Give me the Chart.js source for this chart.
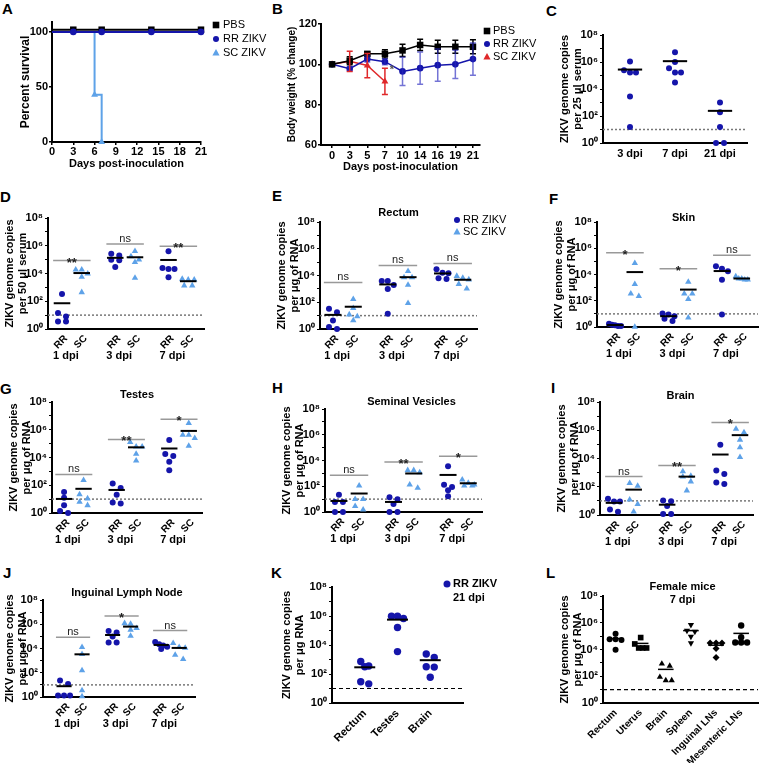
<!DOCTYPE html>
<html>
<head>
<meta charset="utf-8">
<script src="https://cdn.jsdelivr.net/npm/chart.js@4.4.1/dist/chart.umd.min.js"></script>
<style>
  html, body { margin: 0; padding: 0; background: #fff; }
  body { width: 760px; height: 763px; position: relative; overflow: hidden; }
  canvas { position: absolute; }
  .tag { position: absolute; font: bold 15px/15px "Liberation Sans", Arial, sans-serif; color: #000; }
</style>
</head>
<body>
<div class="tag" style="left:2px;top:1px">A</div>
<div class="tag" style="left:272px;top:1px">B</div>
<div class="tag" style="left:546px;top:3px">C</div>
<div class="tag" style="left:0px;top:189px">D</div>
<div class="tag" style="left:272px;top:188px">E</div>
<div class="tag" style="left:549px;top:191px">F</div>
<div class="tag" style="left:0px;top:381px">G</div>
<div class="tag" style="left:272px;top:380px">H</div>
<div class="tag" style="left:551px;top:380px">I</div>
<div class="tag" style="left:3px;top:565px">J</div>
<div class="tag" style="left:271px;top:565px">K</div>
<div class="tag" style="left:546px;top:565px">L</div>
<script>
// ---------- data ----------
// A: survival (%)
const survDays = [0, 3, 7, 14, 21];
const survPBS = [102, 102, 102, 102, 102];
const survRR = [100, 100, 100, 100, 100];
const survSCDays = [0, 6, 7];
const survSC = [100, 43, 0];
const survTicksX = [0, 3, 6, 9, 12, 15, 18, 21];
const survTicksY = [0, 50, 100];

// B: body weight (% change), mean and SD
const bwDays = ['0', '3', '5', '7', '10', '14', '16', '19', '21'];
const bwPBS = [100, 101.8, 105.2, 105.2, 106.9, 109.6, 108.7, 108.7, 108.7];
const bwPBSsd = [0, 2, 1, 2, 3, 2.8, 3.2, 3.2, 3.5];
const bwRR = [100, 97.8, 102.6, 101.3, 96.5, 98.1, 99.6, 100, 102.6];
const bwRRsd = [0, 1, 1.5, 1.5, 7, 8, 8, 7, 8];
const bwSC = [100, 101.5, 99.4, 91.5];
const bwSCsd = [0, 5, 6, 6.5];
const bwTicksY = [60, 80, 100, 120];

// log axis shared by C-L
const logTicks = [1, 1e1, 1e2, 1e3, 1e4, 1e5, 1e6, 1e7, 1e8];
const logLabels = ['10⁰', '', '10²', '', '10⁴', '', '10⁶', '', '10⁸'];
const limitOfDetection = 10;

// C: serum, RR ZIKV
const cDays = ['3 dpi', '7 dpi', '21 dpi'];
const cSerum = [
  [1.07e6, 2.5e5, 1.66e5, 1.66e5, 2.8e3, 15],
  [5.2e6, 1e6, 3.5e5, 1.66e5, 1.66e5, 3e4],
  [1e3, 186, 15, 1, 1]
];

// D-J: groups RR 1dpi, SC 1dpi, RR 3dpi, SC 3dpi, RR 7dpi, SC 7dpi
const pairTicks = ['RR', 'SC', 'RR', 'SC', 'RR', 'SC'];
const dpiLabels = ['1 dpi', '3 dpi', '7 dpi'];

const dSerum = [
  [330, 14, 8.1, 3.5, 3.5],
  [1.9e4, 1.9e4, 9.8e3, 5.6e3, 440],
  [2.6e5, 1.95e5, 1e5, 8.9e4, 2.95e4],
  [4e5, 1.7e5, 1e5, 6.5e4, 4.8e3],
  [4e5, 2.5e4, 2.1e4, 2.1e4, 5.4e3],
  [4e3, 3.6e3, 3.6e3, 1.35e3, 1.35e3]
];
const dSig = ['**', 'ns', '**'];
const dSigAt = [8.5e4, 1.35e6, 9.1e5];

const eRectum = [
  [32, 18, 4.4, 1.4, 1],
  [170, 36, 12, 8.7, 4.4],
  [3.9e3, 3.9e3, 1.95e3, 1e3, 14],
  [2.1e4, 7.2e3, 7.2e3, 1.95e3, 85],
  [2.9e4, 1.6e4, 1.45e4, 6.2e3, 5.5e3],
  [9.1e3, 6.5e3, 5e3, 2.3e3, 1.05e3]
];
const eSig = ['ns', 'ns', 'ns'];
const eSigAt = [3e3, 5.6e4, 8e4];

const fSkin = [
  [1.8, 1.5, 1.35, 1.2, 1.2],
  [7.4e4, 1.8e3, 350, 220, 1],
  [10.5, 9.1, 6.5, 4.3, 2.9],
  [2.7e3, 350, 350, 135, 5.1],
  [4.2e4, 2.75e4, 1.8e4, 4e3, 9.1],
  [7.2e3, 4.8e3, 4.8e3, 4e3, 4e3]
];
const fSig = ['*', '*', 'ns'];
const fSigAt = [4.6e5, 2.75e4, 2.9e5];

const gTestes = [
  [33, 12.6, 3.6, 1.4, 1],
  [234, 22, 11, 6.3, 3.6],
  [135, 63, 21, 5.6, 4.8],
  [1.26e5, 6e4, 6e4, 1.8e4, 5.9e3],
  [1.86e5, 1.8e4, 1.26e4, 5e3, 1.23e3],
  [2.95e6, 4.3e5, 4.3e5, 2.45e5, 6.8e4]
];
const gSig = ['ns', '**', '*'];
const gSigAt = [600, 2e5, 5.8e6];

const hSeminal = [
  [22, 6, 6, 1, 1],
  [112, 10, 10, 2.8, 1.5],
  [14, 10, 4.2, 1, 1],
  [1.74e3, 1.74e3, 1.2e3, 132, 74],
  [3.5e3, 132, 87, 48, 17],
  [320, 178, 132, 112, 112]
];
const hSig = ['ns', '**', '*'];
const hSigAt = [700, 7.8e3, 2.1e4];

const iBrain = [
  [14, 9, 9, 2.5, 1.7],
  [178, 115, 12, 5.8, 1.7],
  [10.5, 9.5, 4.4, 1.2, 1.2],
  [1.2e3, 590, 525, 234, 54],
  [9.3e4, 1.4e3, 810, 200, 158],
  [1.26e6, 7.1e5, 2.1e5, 6e4, 1.23e4]
];
const iSig = ['ns', '**', '*'];
const iSigAt = [525, 3.2e3, 3.6e6];

const jLymph = [
  [23, 12, 1.3, 1.3, 1.3],
  [1.3e4, 3.4e3, 155, 3.5, 1.1],
  [2.8e5, 2.1e5, 9.8e4, 3.1e4, 3.1e4],
  [1.2e6, 1.07e6, 4.7e5, 3.5e5, 1.1e5],
  [3.5e4, 2.2e4, 1.8e4, 1.4e4, 8.9e3],
  [2.75e4, 1.3e4, 1.1e4, 3e3, 1.3e3]
];
const jSig = ['ns', '*', 'ns'];
const jSigAt = [8.5e4, 4.8e6, 3e5];

// K: RR ZIKV 21 dpi
const kTissues = ['Rectum', 'Testes', 'Brain'];
const kRR21 = [
  [720, 360, 320, 29, 21],
  [9.8e5, 9.8e5, 6.8e5, 1.6e5, 3.5e3],
  [2.4e3, 1.4e3, 320, 300, 60]
];

// L: female mice 7 dpi
const lTissues = ['Rectum', 'Uterus', 'Brain', 'Spleen', 'Inguinal LNs', 'Mesenteric LNs'];
const lFemale = [
  [1.5e5, 5.9e4, 5.9e4, 5.2e4, 9.5e3],
  [7.8e4, 2.6e4, 1.3e4, 1.3e4, 1.3e4],
  [850, 600, 87, 49, 49],
  [6.9e5, 2.6e5, 2.2e5, 9.3e4, 3e4],
  [3e4, 3e4, 3e4, 1.2e4, 2.5e3],
  [6.2e5, 8.3e4, 3.3e4, 3.3e4, 3.3e4]
];

// ---------- drawing ----------
const FONT = '"Liberation Sans", Arial, Helvetica, sans-serif';
Chart.defaults.font.family = FONT;
Chart.defaults.color = '#000';

const RR_COL = '#1515aa';
const SC_COL = '#5ea2e8';
const RED = '#e0282a';

const RRs = { shape: 'circle', r: 3, color: RR_COL };
const SCs = { shape: 'triangle', r: 3.7, color: SC_COL };

function mount(area, yW, padTop, padRight, xH) {
  const cv = document.createElement('canvas');
  const left = area[0] - yW, top = area[1] - padTop;
  cv.width = area[2] - left + padRight;
  cv.height = area[3] - top + xH;
  cv.style.left = left + 'px';
  cv.style.top = top + 'px';
  document.body.appendChild(cv);
  return cv;
}

const mean = a => a.reduce((s, v) => s + v, 0) / a.length;
const xy = (xs, ys) => xs.map((x, i) => ({ x, y: ys[i] }));

function seg(x1, x2, y, color, w, dash, order) {
  return { data: [{ x: x1, y }, { x: x2, y }], showLine: true, pointRadius: 0, borderColor: color,
    borderWidth: w, borderDash: dash || [], order, clip: false };
}

// spread points that sit on the same height sideways, like a column scatter
function swarm(vals, pxU, pxD) {
  const idx = vals.map((v, i) => i).sort((a, b) => vals[b] - vals[a]);
  const off = vals.map(() => 0);
  let row = [];
  const flush = () => {
    const gap = row.length > 1 ? Math.min(8, 12 / (row.length - 1)) : 0;
    row.forEach((i, k) => { off[i] = (k - (row.length - 1) / 2) * gap / pxU; });
    row = [];
  };
  idx.forEach(i => {
    if (row.length && (Math.log10(vals[row[0]]) - Math.log10(vals[i])) * pxD > 5) flush();
    row.push(i);
  });
  flush();
  return off;
}

function marker(ctx, shape, x, y, r, color) {
  ctx.fillStyle = color;
  ctx.beginPath();
  if (shape === 'rect') ctx.rect(x - r, y - r, 2 * r, 2 * r);
  else if (shape === 'triangle') {
    ctx.moveTo(x, y - r * 1.1);
    ctx.lineTo(x + r, y + r * 0.7);
    ctx.lineTo(x - r, y + r * 0.7);
    ctx.closePath();
  } else ctx.arc(x, y, r, 0, Math.PI * 2);
  ctx.fill();
}

// texts that are not axis texts: slanted pair names, group names, significance, titles, legends
function textPlugin(t) {
  return {
    id: 'panelText',
    afterDraw(chart) {
      const { ctx, chartArea: ca, scales: { x, y } } = chart;
      ctx.save();
      ctx.fillStyle = '#000';
      if (t.slanted) {
        ctx.font = 'bold 10px ' + FONT;
        ctx.textAlign = 'right';
        ctx.textBaseline = 'middle';
        t.slanted.forEach(s => {
          ctx.save();
          ctx.translate(x.getPixelForValue(s.x) + 4, ca.bottom + 8);
          ctx.rotate(-Math.PI / 4);
          ctx.fillText(s.text, 0, 0);
          ctx.restore();
        });
      }
      ctx.textAlign = 'center';
      ctx.textBaseline = 'middle';
      if (t.groups) {
        ctx.font = 'bold 11px ' + FONT;
        t.groups.forEach(g => ctx.fillText(g.text, x.getPixelForValue(g.x) - 6, ca.bottom + 27));
      }
      if (t.sig) {
        ctx.textBaseline = 'alphabetic';
        t.sig.forEach(s => {
          const star = s.text !== 'ns';
          ctx.font = (star ? 'bold 13px ' : '11px ') + FONT;
          ctx.fillStyle = '#222';
          ctx.fillText(s.text, x.getPixelForValue(s.x), y.getPixelForValue(s.y) + (star ? 6 : -2));
        });
      }
      if (t.title) {
        ctx.fillStyle = '#000';
        ctx.textBaseline = 'middle';
        ctx.font = 'bold 11px ' + FONT;
        const cx = (ca.left + ca.right) / 2 + t.title.dx;
        t.title.lines.forEach((l, i) => ctx.fillText(l, cx, ca.top + t.title.dy + i * 13));
      }
      if (t.legend) {
        const lg = t.legend;
        ctx.textAlign = 'left';
        ctx.textBaseline = 'middle';
        lg.items.forEach((it, i) => {
          const yy = ca.top + lg.y0 + i * lg.dy;
          if (it.shape) marker(ctx, it.shape, ca.right + lg.mx, yy, it.r || 3.2, it.color);
          ctx.fillStyle = '#000';
          ctx.font = lg.font;
          ctx.fillText(it.text, ca.right + lg.tx, yy);
        });
      }
      if (t.notes) {
        t.notes.forEach(n => {
          ctx.font = n.font;
          ctx.fillStyle = n.color;
          ctx.textAlign = 'center';
          ctx.fillText(n.text, x.getPixelForValue(n.x), y.getPixelForValue(n.y));
        });
      }
      ctx.restore();
    }
  };
}

// error bars for panel B
const errorBars = {
  id: 'errorBars',
  afterDatasetsDraw(chart) {
    const { ctx, scales: { x, y } } = chart;
    ctx.save();
    chart.data.datasets.forEach(ds => {
      if (!ds.sd) return;
      ctx.strokeStyle = ds.barColor || ds.borderColor;
      ctx.lineWidth = 1.5;
      ds.data.forEach((pt, j) => {
        const sd = ds.sd[j];
        if (!sd) return;
        const px = x.getPixelForValue(pt.x);
        const hi = y.getPixelForValue(pt.y + sd), lo = y.getPixelForValue(pt.y - sd);
        ctx.beginPath();
        ctx.moveTo(px, hi); ctx.lineTo(px, lo);
        ctx.moveTo(px - 3, hi); ctx.lineTo(px + 3, hi);
        ctx.moveTo(px - 3, lo); ctx.lineTo(px + 3, lo);
        ctx.stroke();
      });
    });
    ctx.restore();
  }
};

const axisFont = { size: 11, weight: 'bold' };
const titleFont = { size: 11, weight: 'bold', lineHeight: '13px' };
const noPlugins = { legend: { display: false }, tooltip: { enabled: false } };
const hideFirst = r => c => (c.dataIndex === 0 ? 0 : r);

// ----- A -----
(function () {
  const area = [52, 22, 201, 142];
  const yW = 36;
  const cv = mount(area, yW, 22, 75, 32);
  new Chart(cv, {
    type: 'line',
    data: { datasets: [
      { data: xy(survDays, survRR), borderColor: RR_COL, backgroundColor: RR_COL, borderWidth: 2,
        pointStyle: 'circle', pointRadius: hideFirst(3.3), pointBorderWidth: 0, order: 1, clip: false },
      { data: xy(survDays, survPBS), borderColor: '#000', backgroundColor: '#000', borderWidth: 2,
        pointStyle: 'rect', pointRadius: hideFirst(4.6), pointBorderWidth: 0, order: 2, clip: false },
      { data: xy(survSCDays, survSC), stepped: true, borderColor: SC_COL, backgroundColor: SC_COL, borderWidth: 2,
        pointStyle: 'triangle', pointRadius: hideFirst(4), pointBorderWidth: 0, order: 3, clip: false }
    ] },
    options: {
      responsive: false, animation: false,
      layout: { padding: { top: 22, right: 75, left: 0, bottom: 0 } },
      plugins: noPlugins,
      scales: {
        x: { type: 'linear', min: 0, max: 21,
          afterBuildTicks: s => { s.ticks = survTicksX.map(v => ({ value: v })); },
          afterFit: s => { s.height = 32; s.paddingLeft = 0; s.paddingRight = 0; },
          ticks: { autoSkip: false, maxRotation: 0, padding: 0, font: { size: 11, weight: 'bold' } },
          grid: { drawOnChartArea: false, tickLength: 3, color: '#000', lineWidth: 1.5 },
          border: { color: '#000', width: 2 },
          title: { display: true, text: 'Days post-inoculation', font: { size: 11, weight: 'bold' }, padding: { bottom: 3, top: 0 } } },
        y: { min: 0, max: 109,
          afterBuildTicks: s => { s.ticks = survTicksY.map(v => ({ value: v })); },
          afterFit: s => { s.width = yW; s.paddingTop = 0; s.paddingBottom = 0; },
          ticks: { padding: 1, font: { size: 11, weight: 'bold' } },
          grid: { drawOnChartArea: false, tickLength: 3, color: '#000', lineWidth: 1.5 },
          border: { color: '#000', width: 2 },
          title: { display: true, text: 'Percent survival', font: { size: 12, weight: 'bold' }, padding: { top: 2, bottom: 0 } } }
      }
    },
    plugins: [textPlugin({ legend: { mx: 15, tx: 22, y0: 3, dy: 14, font: '11px ' + FONT, items: [
      { shape: 'rect', r: 3.3, color: '#000', text: 'PBS' },
      { shape: 'circle', r: 3, color: RR_COL, text: 'RR ZIKV' },
      { shape: 'triangle', r: 3.6, color: SC_COL, text: 'SC ZIKV' }] } })]
  });
})();

// ----- B -----
(function () {
  const area = [321, 24, 480, 145];
  const yW = 38;
  const cv = mount(area, yW, 22, 70, 32);
  const idx = bwDays.map((d, i) => i);
  new Chart(cv, {
    type: 'line',
    data: { datasets: [
      { data: xy(idx, bwPBS), sd: bwPBSsd, borderColor: '#000', backgroundColor: '#000', borderWidth: 1.5,
        pointStyle: 'rect', pointRadius: 4.6, pointBorderWidth: 0, order: 1, clip: false },
      { data: xy(idx, bwRR), sd: bwRRsd, barColor: 'rgba(40,40,190,0.65)', borderColor: RR_COL, backgroundColor: RR_COL,
        borderWidth: 1.5, pointStyle: 'circle', pointRadius: 3.3, pointBorderWidth: 0, order: 2, clip: false },
      { data: xy(idx.slice(0, bwSC.length), bwSC), sd: bwSCsd, borderColor: RED, backgroundColor: RED, borderWidth: 1.5,
        pointStyle: 'triangle', pointRadius: 4, pointBorderWidth: 0, order: 3, clip: false }
    ] },
    options: {
      responsive: false, animation: false,
      layout: { padding: { top: 22, right: 70, left: 0, bottom: 0 } },
      plugins: noPlugins,
      scales: {
        x: { type: 'linear', min: -0.63, max: 8.4,
          afterBuildTicks: s => { s.ticks = idx.map(v => ({ value: v })); },
          afterFit: s => { s.height = 32; s.paddingLeft = 0; s.paddingRight = 0; },
          ticks: { autoSkip: false, maxRotation: 0, padding: 1, font: { size: 11, weight: 'bold' }, callback: (v, i) => bwDays[i] },
          grid: { drawOnChartArea: false, tickLength: 3, color: '#000', lineWidth: 1.5 },
          border: { color: '#000', width: 2 },
          title: { display: true, text: 'Days post-inoculation', font: { size: 11, weight: 'bold' }, padding: { bottom: 3, top: 0 } } },
        y: { min: 60, max: 120,
          afterBuildTicks: s => { s.ticks = bwTicksY.map(v => ({ value: v })); },
          afterFit: s => { s.width = yW; s.paddingTop = 0; s.paddingBottom = 0; },
          ticks: { padding: 1, font: { size: 11, weight: 'bold' } },
          grid: { drawOnChartArea: false, tickLength: 3, color: '#000', lineWidth: 1.5 },
          border: { color: '#000', width: 2 },
          title: { display: true, text: 'Body weight (% change)', font: { size: 10, weight: 'bold' }, padding: { top: 3, bottom: 0 } } }
      }
    },
    plugins: [errorBars, textPlugin({
      notes: [{ text: '*', x: 3.4, y: 97, font: 'bold 11px ' + FONT, color: '#555' }],
      legend: { mx: 7, tx: 13, y0: 7, dy: 13, font: '11px ' + FONT, items: [
        { shape: 'rect', r: 3.3, color: '#000', text: 'PBS' },
        { shape: 'circle', r: 3, color: RR_COL, text: 'RR ZIKV' },
        { shape: 'triangle', r: 3.6, color: RED, text: 'SC ZIKV' }] } })]
  });
})();

// ----- log dot plots C-L -----
function dotPanel(p) {
  const [L, T, R, B] = p.area;
  const yW = p.t1 + 9;
  const padTop = p.padTop || 24, padRight = p.padRight || 10;
  const cv = mount(p.area, yW, padTop, padRight, p.xH);
  const pxU = (R - L) / (p.xmax - p.xmin), pxD = (B - T) / 8;
  const datasets = [];
  p.sets.forEach((vals, k) => {
    const st = p.styles[k % p.styles.length];
    const off = swarm(vals, pxU, pxD);
    datasets.push({ data: vals.map((v, i) => ({ x: p.pos[k] + off[i], y: v })), pointStyle: st.shape,
      pointRotation: st.rot || 0, pointRadius: st.r, backgroundColor: st.color, borderColor: st.color,
      borderWidth: 0, order: 2, clip: false });
    datasets.push(seg(p.pos[k] - p.half, p.pos[k] + p.half, mean(vals), '#000', p.meanW || 2, null, 1));
  });
  const t = {};
  if (p.sig) {
    t.sig = p.sig.map((s, g) => ({ text: s, x: (p.pos[2 * g] + p.pos[2 * g + 1]) / 2, y: p.sigAt[g] }));
    p.sig.forEach((s, g) => datasets.push(seg(p.pos[2 * g] - 0.45, p.pos[2 * g + 1] + 0.45, p.sigAt[g], '#999', 1.5, null, 3)));
    t.groups = dpiLabels.map((d, g) => ({ text: d, x: (p.pos[2 * g] + p.pos[2 * g + 1]) / 2 }));
    t.slanted = p.tickPos.map((v, i) => ({ text: p.ticks[i], x: v }));
  }
  datasets.push(seg(p.xmin, p.xmax, limitOfDetection, p.limitColor || '#777', p.limitW || 1.5, p.dash || [2, 2], 4));
  if (p.title) t.title = p.title;
  if (p.legend) t.legend = p.legend;

  new Chart(cv, {
    type: 'scatter',
    data: { datasets },
    options: {
      responsive: false, animation: false,
      layout: { padding: { top: padTop, right: padRight, left: 0, bottom: 0 } },
      plugins: noPlugins,
      scales: {
        x: { type: 'linear', min: p.xmin, max: p.xmax,
          afterBuildTicks: s => { s.ticks = p.tickPos.map(v => ({ value: v })); },
          afterFit: s => { s.height = p.xH; s.paddingLeft = 0; s.paddingRight = 0; },
          ticks: { display: !p.sig, autoSkip: false, minRotation: p.rot, maxRotation: p.rot, padding: 1,
            font: { size: p.tickSize || 10, weight: 'bold' }, callback: (v, i) => p.ticks[i] },
          grid: { display: false, drawTicks: true, tickLength: 3 },
          border: { color: '#000', width: 2 } },
        y: { type: 'logarithmic', min: 1, max: 1e8,
          afterBuildTicks: s => { s.ticks = logTicks.map(v => ({ value: v })); },
          afterFit: s => { s.width = yW; s.paddingTop = 0; s.paddingBottom = 0; },
          ticks: { autoSkip: false, padding: 2, font: axisFont, callback: (v, i) => logLabels[i] },
          grid: { drawOnChartArea: false, tickLength: 3, color: '#000', lineWidth: 1 },
          border: { color: '#000', width: 2 },
          title: { display: true, text: p.ytitle, font: titleFont, padding: { top: 2.5, bottom: 0 } } }
      }
    },
    plugins: [textPlugin(t)]
  });
}

const pairPos = [0, 1, 2.7, 3.7, 5.4, 6.4];
const perRNA = ['ZIKV genome copies', 'per μg of RNA'];
const pairSty = [RRs, SCs];

dotPanel({ area: [603, 35, 747, 143], t1: 38, xmin: -0.6, xmax: 2.6, pos: [0, 1, 2], tickPos: [0, 1, 2],
  ticks: cDays, rot: 0, tickSize: 11, sets: cSerum, styles: [RRs], half: 0.27, xH: 22,
  ytitle: ['ZIKV genome copies', 'per 25 μl serum'] });

dotPanel({ area: [48, 218, 204, 329], t1: 38, xmin: -0.71, xmax: 7.2, pos: pairPos, tickPos: pairPos,
  ticks: pairTicks, rot: 45, sets: dSerum, styles: pairSty, half: 0.42, xH: 40, sig: dSig, sigAt: dSigAt,
  ytitle: ['ZIKV genome copies', 'per 50 μl serum'] });

dotPanel({ area: [320, 222, 477, 329], t1: 38, xmin: -0.64, xmax: 7.1, pos: pairPos, tickPos: pairPos,
  ticks: pairTicks, rot: 45, sets: eRectum, styles: pairSty, half: 0.42, xH: 40, sig: eSig, sigAt: eSigAt,
  ytitle: perRNA, padRight: 40, title: { lines: ['Rectum'], dx: 0, dy: -9 },
  legend: { mx: -20, tx: -14, y0: -2, dy: 12, font: '11px ' + FONT, items: [
    { shape: 'circle', r: 3, color: RR_COL, text: 'RR ZIKV' },
    { shape: 'triangle', r: 3.6, color: SC_COL, text: 'SC ZIKV' }] } });

dotPanel({ area: [597, 222, 758, 327], t1: 38, xmin: -0.91, xmax: 7.22, pos: pairPos, tickPos: pairPos,
  ticks: pairTicks, rot: 45, sets: fSkin, styles: pairSty, half: 0.42, xH: 40, sig: fSig, sigAt: fSigAt,
  ytitle: perRNA, title: { lines: ['Skin'], dx: 6, dy: -4 } });

dotPanel({ area: [52, 402, 202, 513], t1: 38, xmin: -0.62, xmax: 7.08, pos: pairPos, tickPos: pairPos,
  ticks: pairTicks, rot: 45, sets: gTestes, styles: pairSty, half: 0.42, xH: 40, sig: gSig, sigAt: gSigAt,
  ytitle: perRNA, title: { lines: ['Testes'], dx: 10, dy: -7 } });

dotPanel({ area: [325, 409, 482, 512], t1: 38, xmin: -0.69, xmax: 7.08, pos: pairPos, tickPos: pairPos,
  ticks: pairTicks, rot: 45, sets: hSeminal, styles: pairSty, half: 0.42, xH: 40, sig: hSig, sigAt: hSigAt,
  ytitle: perRNA, title: { lines: ['Seminal Vesicles'], dx: 8, dy: -7 } });

dotPanel({ area: [600, 402, 753, 515], t1: 38, xmin: -0.71, xmax: 7.06, pos: pairPos, tickPos: pairPos,
  ticks: pairTicks, rot: 45, sets: iBrain, styles: pairSty, half: 0.42, xH: 40, sig: iSig, sigAt: iSigAt,
  ytitle: perRNA, title: { lines: ['Brain'], dx: 4, dy: -6 } });

dotPanel({ area: [43, 600, 195, 697], t1: 33, xmin: -1.17, xmax: 7.28, pos: pairPos, tickPos: pairPos,
  ticks: pairTicks, rot: 45, sets: jLymph, styles: pairSty, half: 0.42, xH: 40, sig: jSig, sigAt: jSigAt,
  ytitle: perRNA, title: { lines: ['Inguinal Lymph Node'], dx: 8, dy: -7 } });

dotPanel({ area: [332, 587, 463, 703], t1: 45, xmin: -1, xmax: 3, pos: [0, 1, 2], tickPos: [0, 1, 2],
  ticks: kTissues, rot: 45, tickSize: 11, sets: kRR21, styles: [{ shape: 'circle', r: 3.7, color: RR_COL }],
  half: 0.32, xH: 55, ytitle: ['ZIKV genome copies', 'per μg RNA'], limitColor: '#000', limitW: 1.2, dash: [4, 3],
  padRight: 45, legend: { mx: -16, tx: -10, y0: -3, dy: 14, font: 'bold 11px ' + FONT, items: [
    { shape: 'circle', r: 3.5, color: RR_COL, text: 'RR ZIKV' }, { text: '21 dpi' }] } });

dotPanel({ area: [603, 596, 760, 703], t1: 38, xmin: -0.5, xmax: 5.67, pos: [0, 1, 2, 3, 4, 5], tickPos: [0, 1, 2, 3, 4, 5],
  ticks: lTissues, rot: 45, tickSize: 10, sets: lFemale, half: 0.31, meanW: 1.5, xH: 60,
  styles: [{ shape: 'circle', r: 3, color: '#000' }, { shape: 'rect', r: 4, color: '#000' },
    { shape: 'triangle', r: 3.6, color: '#000' }, { shape: 'triangle', r: 3.6, rot: 180, color: '#000' },
    { shape: 'rectRot', r: 3.5, color: '#000' }, { shape: 'circle', r: 3.2, color: '#000' }],
  ytitle: perRNA, limitColor: '#000', limitW: 1.2, dash: [4, 3], padRight: 2,
  title: { lines: ['Female mice', '7 dpi'], dx: 2, dy: -9 } });
</script>
</body>
</html>
